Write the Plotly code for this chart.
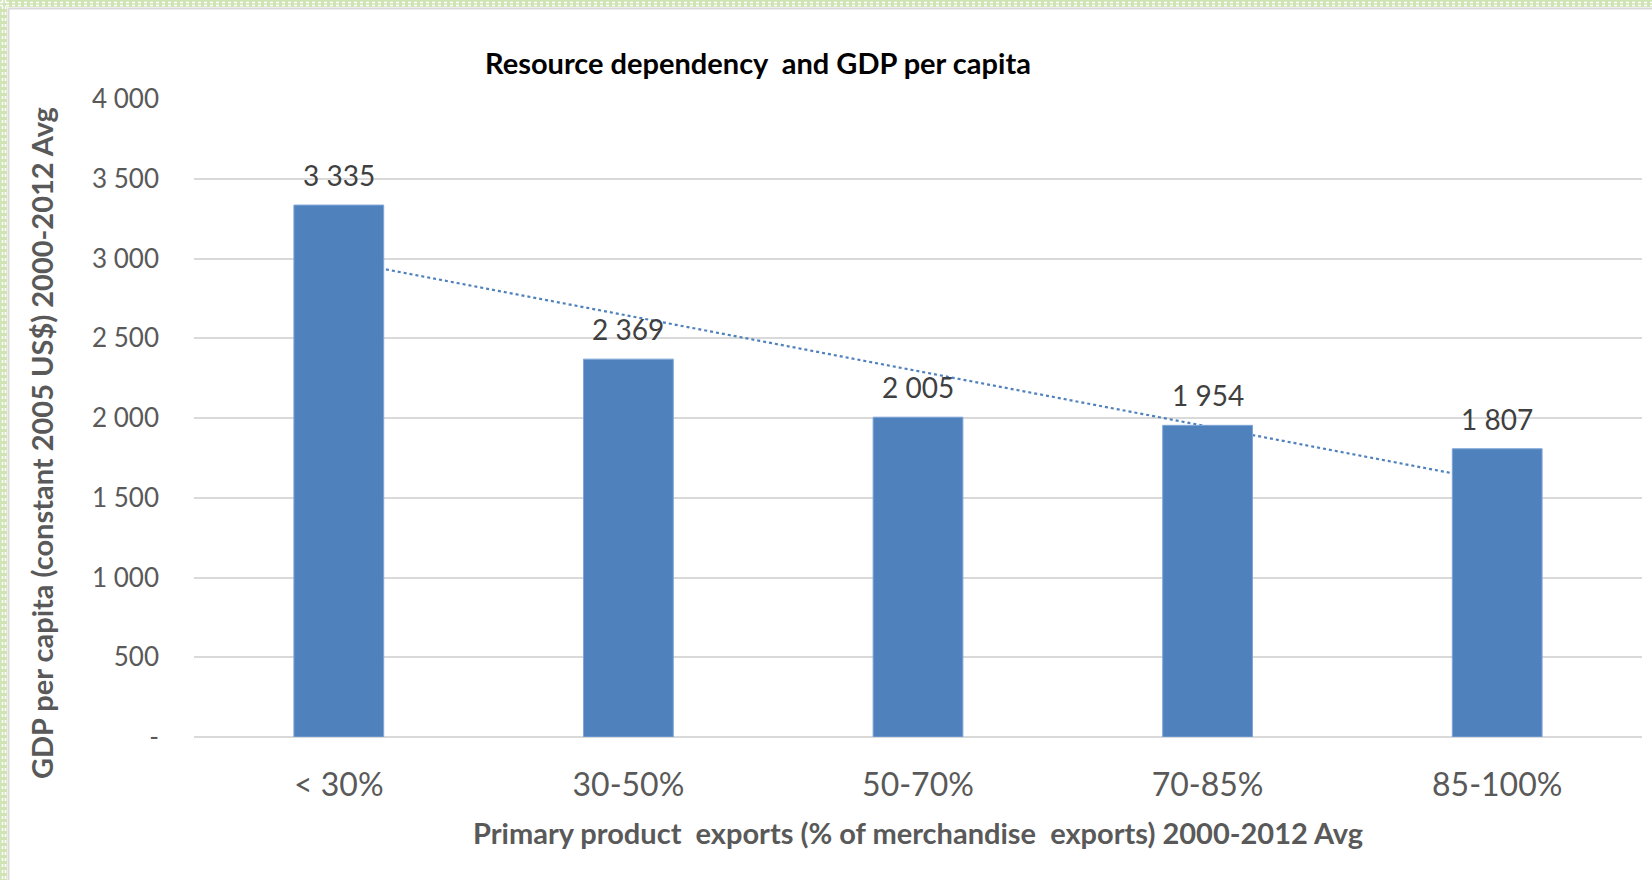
import numpy as np
import plotly.graph_objects as go

# ---- data ----
categories = ["< 30%", "30-50%", "50-70%", "70-85%", "85-100%"]
gdp_per_capita = [3335, 2369, 2005, 1954, 1807]
y_tick_values = [0, 500, 1000, 1500, 2000, 2500, 3000, 3500, 4000]
y_tick_labels = ["-", "500", "1 000", "1 500", "2 000", "2 500", "3 000", "3 500", "4 000"]

# ---- geometry (pixels) ----
FIG_W, FIG_H = 1652, 880
M_L, M_R, M_T, M_B = 194, 10, 99, 143
PLOT_W = FIG_W - M_L - M_R
PLOT_H = FIG_H - M_T - M_B


def px_x(p):
    return (p - M_L) / PLOT_W


def px_y(p):
    return (FIG_H - M_B - p) / PLOT_H


FONT = "Lato"
BLUE = "#4f81bd"
GRID = "#d9d9d9"
GREY_TXT = "#595959"

x_idx = np.arange(len(categories))
slope, intercept = np.polyfit(x_idx, gdp_per_capita, 1)
trend = slope * x_idx + intercept

fig = go.Figure()

# linear trend, on the lower axis pair so the bars cover it
fig.add_trace(go.Scatter(
    x=x_idx, y=trend, mode="lines",
    line=dict(color=BLUE, width=2.2, dash="dot"),
    xaxis="x", yaxis="y", hoverinfo="skip", showlegend=False,
))

fig.add_trace(go.Bar(
    x=x_idx, y=gdp_per_capita, width=0.31,
    marker=dict(color=BLUE, line=dict(color="#7ea6d8", width=1)),
    xaxis="x2", yaxis="y2", showlegend=False,
))

x_range = [-0.5, len(categories) - 0.5]
y_range = [0, 4000]

fig.update_layout(
    width=FIG_W, height=FIG_H,
    margin=dict(l=M_L, r=M_R, t=M_T, b=M_B, pad=0),
    paper_bgcolor="white", plot_bgcolor="white",
    font=dict(family=FONT, color=GREY_TXT),
    xaxis=dict(
        range=x_range, tickmode="array", tickvals=list(x_idx), ticktext=categories,
        showgrid=False, zeroline=False, showline=False, ticks="",
        tickfont=dict(family=FONT, size=32, color=GREY_TXT),
        ticklabelstandoff=26,
    ),
    yaxis=dict(
        range=y_range, tickmode="array", tickvals=y_tick_values, ticktext=y_tick_labels,
        showgrid=True, gridcolor=GRID, gridwidth=2,
        zeroline=True, zerolinecolor=GRID, zerolinewidth=2,
        showline=False, ticks="",
        tickfont=dict(family=FONT, size=26, color=GREY_TXT),
        ticklabelstandoff=34,
    ),
    xaxis2=dict(range=x_range, overlaying="x", visible=False),
    yaxis2=dict(range=y_range, overlaying="y", visible=False),
)

# value labels above the bars
for xi, v in zip(x_idx, gdp_per_capita):
    fig.add_annotation(
        x=xi, y=v, xref="x2", yref="y2",
        text=f"{v:,}".replace(",", " "), showarrow=False,
        yanchor="bottom", yshift=11,
        font=dict(family=FONT, size=28, color="#404040"),
    )

# chart title
fig.add_annotation(
    x=px_x(758), y=px_y(63), xref="paper", yref="paper",
    text="<b>Resource dependency  and GDP per capita</b>", showarrow=False,
    xanchor="center", yanchor="middle",
    font=dict(family=FONT, size=29, color="black"),
)

# axis titles
fig.add_annotation(
    x=px_x(918), y=px_y(833), xref="paper", yref="paper",
    text="<b>Primary product  exports (% of merchandise  exports) 2000-2012 Avg</b>",
    showarrow=False, xanchor="center", yanchor="middle",
    font=dict(family=FONT, size=29, color=GREY_TXT),
)
fig.add_annotation(
    x=px_x(42), y=px_y(443), xref="paper", yref="paper",
    text="<b>GDP per capita (constant 2005 US$) 2000-2012 Avg</b>",
    showarrow=False, xanchor="center", yanchor="middle", textangle=-90,
    font=dict(family=FONT, size=29, color=GREY_TXT),
)

# decorative frame: green dotted strip and thin grey chart border
shapes = [
    dict(type="rect", x0=px_x(0), x1=px_x(FIG_W), y0=px_y(0), y1=px_y(7),
         fillcolor="#cfe3b5", line=dict(width=0)),
    dict(type="rect", x0=px_x(0), x1=px_x(7), y0=px_y(0), y1=px_y(FIG_H),
         fillcolor="#cfe3b5", line=dict(width=0)),
    dict(type="line", x0=px_x(0), x1=px_x(FIG_W), y0=px_y(2.5), y1=px_y(2.5),
         line=dict(color="white", width=1.5, dash="dot")),
    dict(type="line", x0=px_x(0), x1=px_x(FIG_W), y0=px_y(5.5), y1=px_y(5.5),
         line=dict(color="white", width=1.5, dash="dot")),
    dict(type="line", x0=px_x(2.5), x1=px_x(2.5), y0=px_y(0), y1=px_y(FIG_H),
         line=dict(color="white", width=1.5, dash="dot")),
    dict(type="line", x0=px_x(5.5), x1=px_x(5.5), y0=px_y(0), y1=px_y(FIG_H),
         line=dict(color="white", width=1.5, dash="dot")),
    dict(type="line", x0=px_x(8.5), x1=px_x(FIG_W), y0=px_y(8.5), y1=px_y(8.5),
         line=dict(color=GRID, width=2)),
    dict(type="line", x0=px_x(8.5), x1=px_x(8.5), y0=px_y(8.5), y1=px_y(FIG_H),
         line=dict(color=GRID, width=2)),
]
for s in shapes:
    s.update(xref="paper", yref="paper", layer="above")
fig.update_layout(shapes=shapes)

fig.write_html("out.html")
